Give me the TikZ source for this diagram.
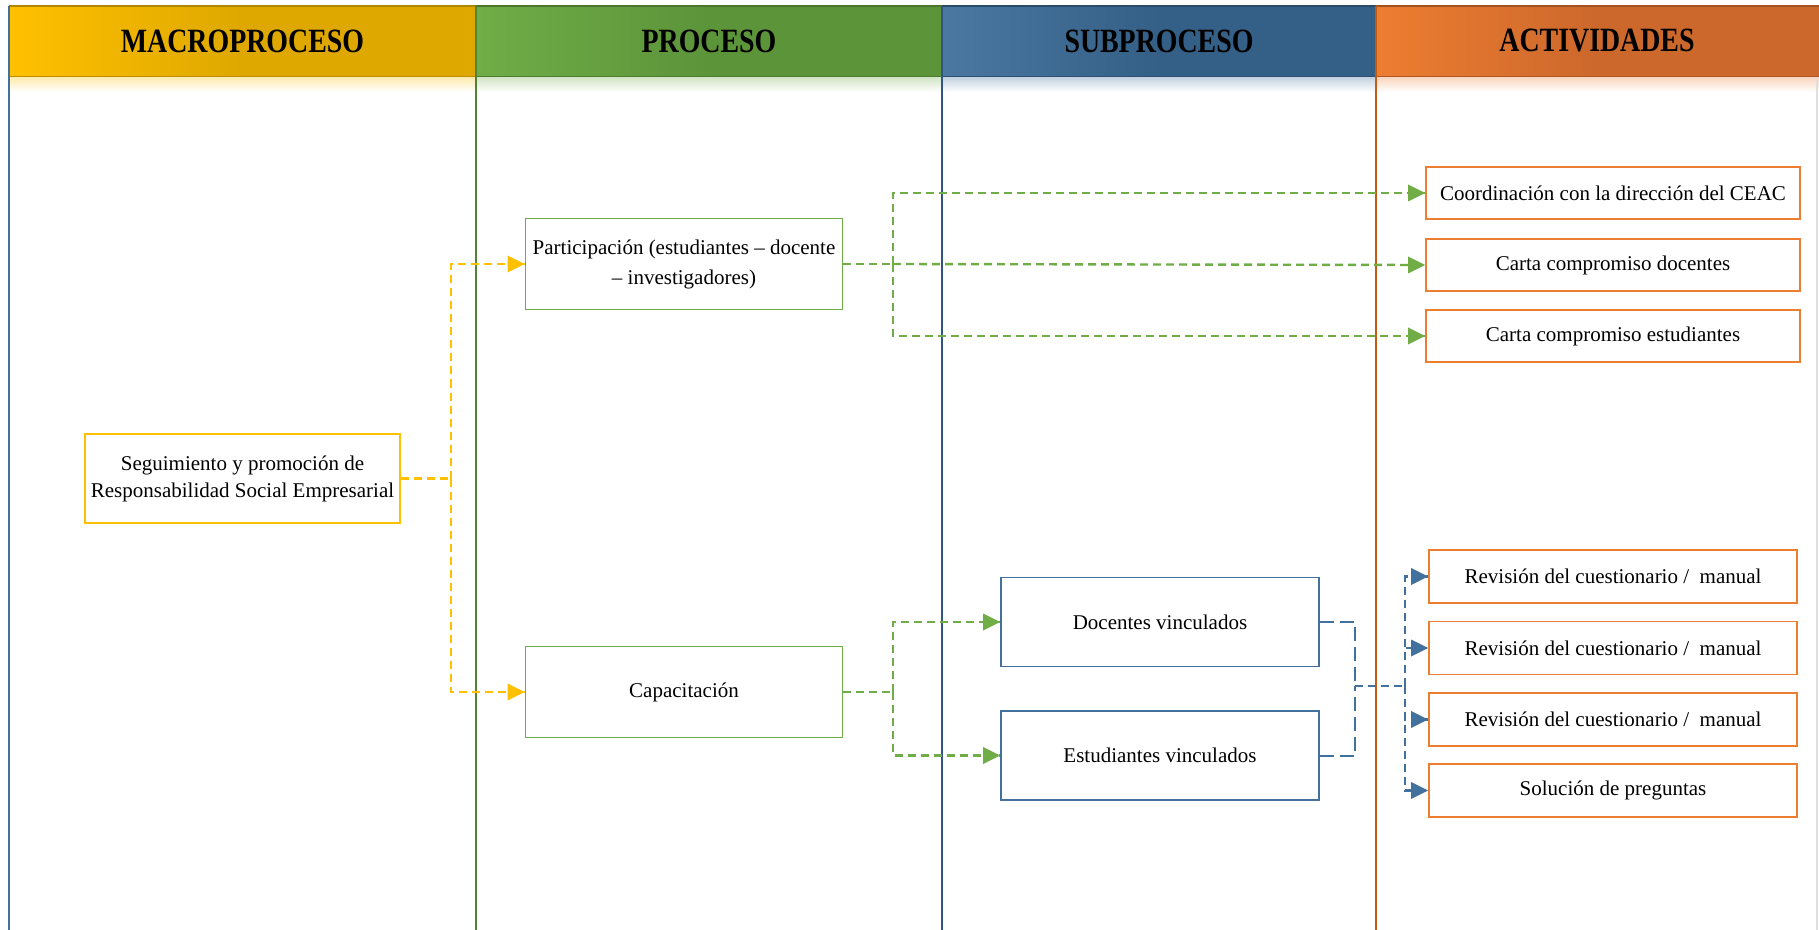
\documentclass[tikz,border=0pt]{standalone}
\usepackage{fontspec}
\setmainfont{Liberation Serif}
\usetikzlibrary{arrows.meta}
\definecolor{cyel}{RGB}{255,192,0}
\definecolor{cyeld}{RGB}{222,168,0}
\definecolor{cgrn}{RGB}{112,173,71}
\definecolor{cgrnd}{RGB}{92,148,58}
\definecolor{cgrnl}{RGB}{84,130,53}
\definecolor{cblu}{RGB}{65,113,156}
\definecolor{cblud}{RGB}{52,95,134}
\definecolor{cblul}{RGB}{47,85,130}
\definecolor{corg}{RGB}{237,125,49}
\definecolor{corgd}{RGB}{204,104,44}
\definecolor{corgl}{RGB}{197,90,17}
\begin{document}
\begin{tikzpicture}[x=0.5pt,y=-0.5pt,
  hdr/.style={font=\bfseries\fontsize{17}{19}\selectfont, text=black},
  box/.style={draw, line width=0.9pt, fill=white, align=center, inner sep=1pt,
    font=\fontsize{10.5}{13}\selectfont, text=black},
  ybox/.style={box, draw=cyel, minimum width=157.5pt, minimum height=44.5pt},
  gbox/.style={box, draw=cgrn, minimum width=158.5pt, minimum height=45.5pt},
  bbox/.style={box, draw=cblu, minimum width=159pt, minimum height=44.5pt},
  obox/.style={box, draw=corg, minimum width=187pt, minimum height=26pt},
  rbox/.style={box, draw=corg, minimum width=184pt, minimum height=26.5pt},
  ylink/.style={draw=cyel, line width=1.2pt, dash pattern=on 4pt off 2.5pt},
  glink/.style={draw=cgrn, line width=1.2pt, dash pattern=on 4pt off 2.5pt},
  blong/.style={draw=cblu, line width=1pt, dash pattern=on 7pt off 3pt},
  blink/.style={draw=cblu, line width=1.2pt, dash pattern=on 4pt off 2.5pt},
  colline/.style={line width=1pt}
]
\useasboundingbox (0,0) rectangle (1819,930);
\fill[white] (0,0) rectangle (1819,930);
% header backgrounds
\shade[left color=cyel, right color=cyeld, middle color=cyeld] (9,6) rectangle (476,78);
\shade[left color=cgrn, right color=cgrnd, middle color=cgrnd] (476,6) rectangle (942,78);
\shade[left color=cblu!95!white, right color=cblud, middle color=cblud] (942,6) rectangle (1376,78);
\shade[left color=corg, right color=corgd, middle color=corgd] (1376,6) rectangle (1819,78);
\draw[cyeld!80!black, line width=0.8pt] (9,6) -- (476,6);
\draw[cgrnd!80!black, line width=0.8pt] (476,6) -- (942,6);
\draw[cblud!80!black, line width=0.8pt] (942,6) -- (1376,6);
\draw[corgd!80!black, line width=0.8pt] (1376,6) -- (1819,6);
\draw[cyeld!85!black, line width=1.2pt] (9,77) -- (476,77);
\draw[cgrnd!85!black, line width=1.2pt] (476,77) -- (942,77);
\draw[cblud!85!black, line width=1.2pt] (942,77) -- (1376,77);
\draw[corgd!85!black, line width=1.2pt] (1376,77) -- (1819,77);
% header shadows
\shade[top color=cyel!30, bottom color=white] (9,78) rectangle (476,92);
\shade[top color=cgrn!30, bottom color=white] (476,78) rectangle (942,92);
\shade[top color=cblu!30, bottom color=white] (942,78) rectangle (1376,92);
\shade[top color=corg!30, bottom color=white] (1376,78) rectangle (1819,92);
% column lines
\draw[colline, cblu] (9,6) -- (9,930);
\draw[colline, cgrnl] (476,6) -- (476,930);
\draw[colline, cblul] (942,6) -- (942,930);
\draw[colline, corgl] (1376,6) -- (1376,930);
\draw[gray!25, line width=1.2pt] (1817,78) -- (1817,930);
% header texts
\node[hdr] (h1) at (242.5,41) {\scalebox{0.82}[1]{MACROPROCESO}};
\node[hdr] (h2) at (709,41) {\scalebox{0.82}[1]{PROCESO}};
\node[hdr] (h3) at (1159,41) {\scalebox{0.82}[1]{SUBPROCESO}};
\node[hdr] (h4) at (1597,41) {\scalebox{0.82}[1]{ACTIVIDADES}};
% nodes
\node[ybox, font=\fontsize{10.5}{13.5}\selectfont] (macro) at (242.5,478.5) {Seguimiento y promoción de\\Responsabilidad Social Empresarial};
\node[gbox, font=\fontsize{10.5}{15}\selectfont] (part) at (684,264) {Participación (estudiantes – docente\\– investigadores)};
\node[gbox] (cap) at (684,692) {Capacitación};
\node[bbox] (doc) at (1160,622) {Docentes vinculados};
\node[bbox] (est) at (1160,755.5) {Estudiantes vinculados};
\node[obox] (coord) at (1613,193) {Coordinación con la dirección del CEAC};
\node[obox] (cdoc) at (1613,265) {Carta compromiso docentes};
\node[obox] (cest) at (1613,336) {Carta compromiso estudiantes};
\node[rbox] (r1) at (1613,576.5) {Revisión del cuestionario / \ manual};
\node[rbox] (r2) at (1613,648) {Revisión del cuestionario / \ manual};
\node[rbox] (r3) at (1613,719.5) {Revisión del cuestionario / \ manual};
\node[rbox] (sol) at (1613,790.5) {Solución de preguntas};
% junction coordinates
\coordinate (yj) at (451,478.5);
\coordinate (pj) at (893,264);
\coordinate (cj) at (893,692);
\coordinate (bj) at (1355,686);
\coordinate (bk) at (1405,686);
% yellow connectors
\draw[ylink] (macro.east) -- (yj);
\draw[ylink] (yj) |- (part.west);
\draw[ylink] (yj) |- (cap.west);
% green connectors
\draw[glink] (part.east) -- (pj);
\draw[glink] (pj) -- (cdoc.west);
\draw[glink] (pj) |- (coord.west);
\draw[glink] (pj) |- (cest.west);
\draw[glink] (cap.east) -- (cj);
\draw[glink] (cj) |- (doc.west);
\draw[glink] (cj) |- (est.west);
% blue connectors
\draw[blong] (doc.east) -| (bj);
\draw[blong] (est.east) -| (bj);
\draw[blink] (bj) -- (bk);
\draw[blink] (bk) |- (r1.west);
\draw[blink] (bk) |- (r2.west);
\draw[blink] (bk) |- (r3.west);
\draw[blink] (bk) |- (sol.west);
% arrowheads
\foreach \n in {coord,cdoc,cest,doc,est}{
  \fill[cgrn] (\n.west) -- ++(-17,-8.5) -- ++(0,17) -- cycle;
}
\foreach \n in {part,cap}{
  \fill[cyel] (\n.west) -- ++(-17,-8.5) -- ++(0,17) -- cycle;
}
\foreach \n in {r1,r2,r3,sol}{
  \fill[cblu] (\n.west) -- ++(-17,-8.5) -- ++(0,17) -- cycle;
}
\end{tikzpicture}
\end{document}
